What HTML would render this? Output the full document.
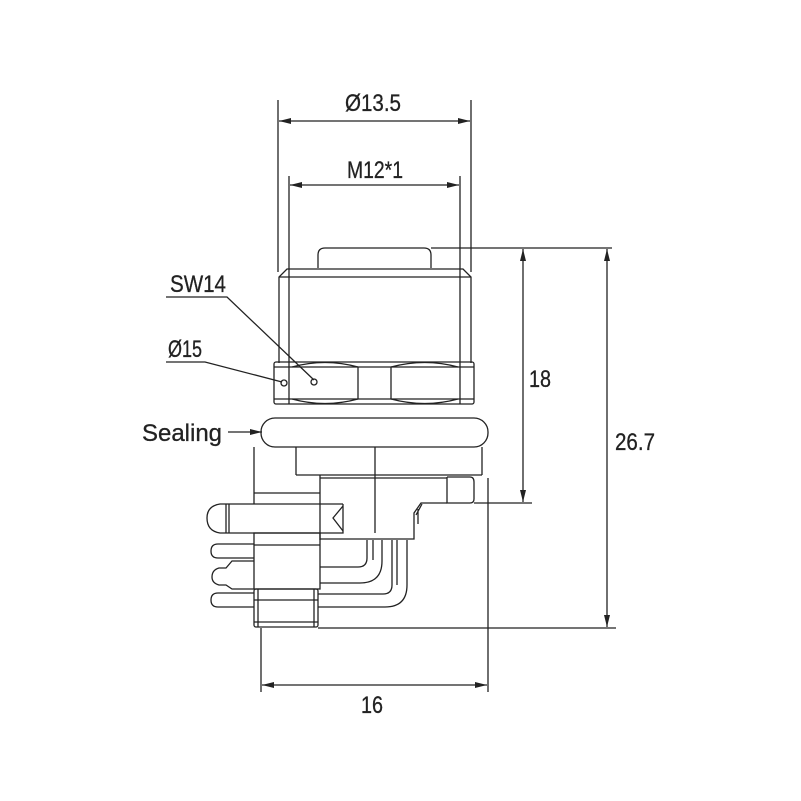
<!DOCTYPE html>
<html><head><style>body{margin:0;background:#fff}svg{display:block}</style></head><body>
<svg width="801" height="801" viewBox="0 0 801 801" xmlns="http://www.w3.org/2000/svg">
<defs>
<marker id="a" viewBox="0 0 12 6" refX="12" refY="3" markerWidth="12" markerHeight="6" orient="auto-start-reverse" markerUnits="userSpaceOnUse"><path d="M0,0L12,3L0,6z" fill="#222"/></marker>
</defs>
<g fill="none" stroke="#222" stroke-width="1.3">
<line x1="278" y1="100" x2="278" y2="272"/><line x1="471" y1="100" x2="471" y2="272"/>
<line x1="279" y1="121" x2="470" y2="121" marker-start="url(#a)" marker-end="url(#a)"/>
<line x1="289" y1="176" x2="289" y2="404"/><line x1="460" y1="176" x2="460" y2="404"/>
<line x1="290" y1="185" x2="459" y2="185" marker-start="url(#a)" marker-end="url(#a)"/>
<path d="M318,268V255Q318,248 325,248H424Q431,248 431,255V268"/>
<line x1="431" y1="248" x2="612" y2="248"/>
<path d="M279,363V277L287,269H463L471,277V363"/>
<line x1="279" y1="277" x2="471" y2="277"/>
<rect x="274" y="362" width="200" height="42" rx="2"/>
<line x1="274" y1="367" x2="474" y2="367"/><line x1="274" y1="399" x2="474" y2="399"/>
<path d="M292,367Q325,358 358,367M292,399Q325,408 358,399M391,367Q425,358 458,367M391,399Q425,408 458,399"/>
<line x1="358" y1="367" x2="358" y2="399"/><line x1="391" y1="367" x2="391" y2="399"/>
<circle cx="284" cy="383" r="3"/><circle cx="314" cy="382" r="3"/>
<rect x="261" y="418" width="227" height="29" rx="14"/>
<path d="M254,447V504M482,447V475M296,447V475M296,475H482M375,447V533M320,475V540"/>
<path d="M254,493H320M320,478H447M447,477H470Q474,477 474,482V499Q474,503 470,503H447V477"/>
<path d="M447,503H421L414,513V539H320"/>
<path d="M418,509L418,524M422,504L416,515"/>
<path d="M343,504H220Q207,506 207,518Q207,531 220,533H343V504"/>
<line x1="226" y1="504" x2="226" y2="533"/><line x1="229" y1="504" x2="229" y2="533"/>
<path d="M343,506L333,518L343,531"/>
<rect x="254" y="533" width="66" height="56"/>
<line x1="254" y1="545" x2="320" y2="545"/>
<rect x="254" y="589" width="64" height="38" rx="2"/>
<line x1="258" y1="589" x2="258" y2="627"/><line x1="314" y1="589" x2="314" y2="627"/>
<line x1="254" y1="600" x2="318" y2="600"/><line x1="254" y1="622" x2="318" y2="622"/>
<path d="M254,544H218Q211,544 211,551Q211,558 218,558H254"/>
<path d="M254,561H232L226,568H219Q212,570 212,577Q212,583 219,585H226L232,589H254"/>
<path d="M254,593H218Q211,593 211,600Q211,607 218,607H254"/>
<path d="M320,567H358Q367,567 367,558V540M320,583H360Q382,583 382,561V540M373,540V560"/>
<path d="M318,594H383Q392,594 392,585V540M318,607H385Q407,607 407,585V540M397,540V585"/>
<line x1="474" y1="503" x2="532" y2="503"/>
<line x1="523" y1="249" x2="523" y2="502" marker-start="url(#a)" marker-end="url(#a)"/>
<line x1="318" y1="628" x2="616" y2="628"/>
<line x1="607" y1="249" x2="607" y2="627" marker-start="url(#a)" marker-end="url(#a)"/>
<line x1="488" y1="478" x2="488" y2="692"/><line x1="261" y1="628" x2="261" y2="692"/>
<line x1="262" y1="685" x2="487" y2="685" marker-start="url(#a)" marker-end="url(#a)"/>
<path d="M166,297H227L314,380"/>
<path d="M166,362H205L282,382"/>
<line x1="228" y1="432" x2="262" y2="432" marker-end="url(#a)"/>
</g>
<g font-family="Liberation Sans, sans-serif" font-size="24" fill="#222" stroke="#222" stroke-width="0.3">
<text x="373" y="111" text-anchor="middle" textLength="56" lengthAdjust="spacingAndGlyphs">Ø13.5</text>
<text x="375" y="178" text-anchor="middle" textLength="56" lengthAdjust="spacingAndGlyphs">M12*1</text>
<text x="170" y="292" textLength="56" lengthAdjust="spacingAndGlyphs">SW14</text>
<text x="168" y="357" textLength="34" lengthAdjust="spacingAndGlyphs">Ø15</text>
<text x="142" y="441" textLength="80" lengthAdjust="spacingAndGlyphs">Sealing</text>
<text x="529" y="387" textLength="22" lengthAdjust="spacingAndGlyphs">18</text>
<text x="615" y="450" textLength="40" lengthAdjust="spacingAndGlyphs">26.7</text>
<text x="372" y="713" text-anchor="middle" textLength="22" lengthAdjust="spacingAndGlyphs">16</text>
</g>
</svg>
</body></html>
